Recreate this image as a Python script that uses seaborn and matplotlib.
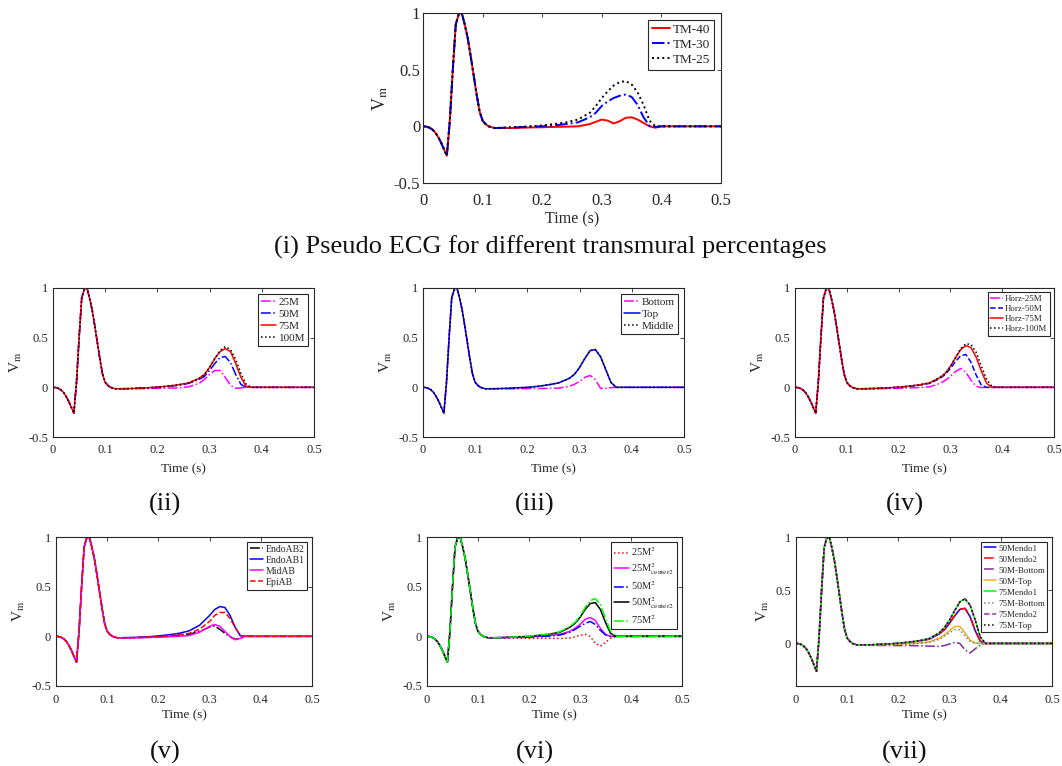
import numpy as np
import pandas as pd
import matplotlib
matplotlib.use("Agg")
import matplotlib.pyplot as plt
import seaborn as sns

# ---------------- data ----------------
# common depolarisation (QRS) part, identical for every curve
t_qrs = [0.0, 0.005, 0.01, 0.015, 0.02, 0.025, 0.03, 0.035, 0.04, 0.045, 0.05,
         0.055, 0.06, 0.065, 0.07, 0.075, 0.08, 0.085, 0.09, 0.095, 0.1, 0.105, 0.11]
v_qrs = [0.0, -0.002, -0.01, -0.025, -0.05, -0.09, -0.14, -0.2, -0.26, 0.05, 0.5,
         0.9, 0.99, 1.0, 0.9, 0.78, 0.62, 0.45, 0.28, 0.13, 0.05, 0.02, 0.0]
# repolarisation (T-wave) part
t_tail = [0.12, 0.15, 0.18, 0.2, 0.22, 0.24, 0.26, 0.28, 0.29, 0.30, 0.31, 0.32,
          0.33, 0.34, 0.35, 0.36, 0.37, 0.38, 0.39, 0.40, 0.45, 0.5]

# (i) transmural percentages
tm40 = [-0.015, -0.015, -0.01, -0.008, -0.005, -0.003, 0.0, 0.02, 0.04, 0.06, 0.05, 0.025,
        0.045, 0.075, 0.08, 0.06, 0.03, 0.0, -0.012, 0, 0, 0]
tm30 = [-0.015, -0.01, -0.003, 0.0, 0.008, 0.02, 0.035, 0.08, 0.12, 0.18, 0.22, 0.25,
        0.27, 0.28, 0.26, 0.19, 0.08, 0.005, -0.005, 0, 0, 0]
tm25 = [-0.015, -0.008, 0.0, 0.008, 0.02, 0.035, 0.06, 0.12, 0.18, 0.25, 0.31, 0.36,
        0.39, 0.40, 0.37, 0.30, 0.19, 0.05, 0.0, 0, 0, 0]
# (ii)
m25 = [-0.015, -0.015, -0.012, -0.01, -0.008, -0.005, 0.005, 0.04, 0.08, 0.13, 0.17, 0.17,
       0.10, 0.02, -0.01, -0.005, 0, 0, 0, 0, 0, 0]
m50 = [-0.015, -0.012, -0.005, 0.0, 0.01, 0.02, 0.04, 0.08, 0.11, 0.17, 0.24, 0.30,
       0.31, 0.25, 0.13, 0.03, 0.0, 0, 0, 0, 0, 0]
m75 = [-0.015, -0.012, -0.005, 0.002, 0.012, 0.025, 0.045, 0.09, 0.13, 0.20, 0.29, 0.36,
       0.39, 0.36, 0.24, 0.10, 0.01, 0, 0, 0, 0, 0]
m100 = [-0.015, -0.012, -0.005, 0.002, 0.012, 0.025, 0.045, 0.09, 0.13, 0.20, 0.29, 0.37,
        0.41, 0.38, 0.28, 0.14, 0.03, 0.0, 0, 0, 0, 0]
# (iii)
bottom = [-0.015, -0.015, -0.015, -0.013, -0.012, -0.01, -0.008, 0.01, 0.03, 0.06, 0.10, 0.12,
          0.08, -0.01, -0.01, -0.003, 0, 0, 0, 0, 0, 0]
top = [-0.015, -0.012, -0.005, 0.0, 0.01, 0.025, 0.045, 0.09, 0.13, 0.20, 0.29, 0.37,
       0.38, 0.31, 0.18, 0.05, 0.0, 0, 0, 0, 0, 0]
middle = [-0.015, -0.012, -0.005, 0.0, 0.01, 0.025, 0.045, 0.09, 0.13, 0.20, 0.29, 0.37,
          0.38, 0.31, 0.18, 0.05, 0.0, 0, 0, 0, 0, 0]
# (iv)
h25 = [-0.015, -0.015, -0.012, -0.01, -0.006, -0.002, 0.005, 0.04, 0.07, 0.11, 0.16, 0.19,
       0.15, 0.07, 0.01, -0.003, 0, 0, 0, 0, 0, 0]
h50 = [-0.015, -0.012, -0.005, 0.0, 0.01, 0.022, 0.04, 0.09, 0.13, 0.19, 0.26, 0.32,
       0.33, 0.25, 0.12, 0.02, 0.0, 0, 0, 0, 0, 0]
h75 = [-0.015, -0.012, -0.005, 0.002, 0.012, 0.025, 0.045, 0.10, 0.14, 0.21, 0.30, 0.38,
       0.42, 0.40, 0.30, 0.16, 0.04, 0.0, 0, 0, 0, 0]
h100 = [-0.015, -0.012, -0.005, 0.002, 0.012, 0.025, 0.045, 0.10, 0.14, 0.21, 0.30, 0.39,
        0.44, 0.43, 0.35, 0.21, 0.08, 0.01, 0, 0, 0, 0]
# (v)
endoab2 = [-0.015, -0.013, -0.01, -0.006, 0.0, 0.008, 0.02, 0.05, 0.07, 0.095, 0.105, 0.07,
           0.03, -0.005, -0.03, -0.02, 0.0, 0, 0, 0, 0, 0]
endoab1 = [-0.015, -0.012, -0.005, 0.005, 0.015, 0.03, 0.055, 0.11, 0.16, 0.21, 0.27, 0.30,
           0.29, 0.21, 0.09, 0.005, 0.0, 0, 0, 0, 0, 0]
midab = [-0.015, -0.015, -0.012, -0.008, -0.004, 0.0, 0.008, 0.04, 0.07, 0.10, 0.12, 0.10,
         0.05, 0.0, -0.035, -0.02, 0, 0, 0, 0, 0, 0]
epiab = [-0.015, -0.013, -0.008, -0.003, 0.005, 0.015, 0.03, 0.07, 0.11, 0.15, 0.21, 0.24,
         0.24, 0.18, 0.09, 0.01, 0.0, 0, 0, 0, 0, 0]
# (vi)
sq25 = [-0.015, -0.018, -0.02, -0.02, -0.02, -0.02, -0.022, -0.018, -0.005, 0.01, 0.02, 0.0,
        -0.07, -0.10, -0.06, -0.02, 0.0, 0, 0, 0, 0, 0]
sq25c = [-0.015, -0.012, -0.008, -0.005, 0.0, 0.008, 0.02, 0.05, 0.08, 0.12, 0.17, 0.19,
         0.16, 0.08, 0.02, 0.0, 0, 0, 0, 0, 0, 0]
sq50 = [-0.015, -0.013, -0.01, -0.008, -0.003, 0.003, 0.012, 0.04, 0.07, 0.10, 0.13, 0.15,
        0.12, 0.06, 0.015, 0.0, 0, 0, 0, 0, 0, 0]
sq50c = [-0.015, -0.012, -0.005, 0.0, 0.01, 0.022, 0.04, 0.09, 0.13, 0.19, 0.27, 0.33,
         0.34, 0.27, 0.14, 0.03, 0.0, 0, 0, 0, 0, 0]
sq75 = [-0.015, -0.012, -0.005, 0.002, 0.012, 0.025, 0.045, 0.10, 0.14, 0.20, 0.29, 0.36,
        0.38, 0.32, 0.18, 0.05, 0.0, 0, 0, 0, 0, 0]
# (vii)
mendo1_50 = [-0.015, -0.012, -0.005, 0.0, 0.01, 0.022, 0.04, 0.09, 0.13, 0.19, 0.26, 0.32,
             0.33, 0.25, 0.12, 0.02, 0.0, 0, 0, 0, 0, 0]
mendo2_50 = [-0.015, -0.012, -0.005, 0.0, 0.01, 0.022, 0.04, 0.09, 0.13, 0.19, 0.26, 0.32,
             0.33, 0.26, 0.12, 0.02, 0.0, 0, 0, 0, 0, 0]
bottom_50 = [-0.015, -0.018, -0.02, -0.02, -0.02, -0.022, -0.025, -0.028, -0.02, -0.005, 0.01, 0.0,
             -0.06, -0.09, -0.05, -0.015, 0, 0, 0, 0, 0, 0]
top_50 = [-0.015, -0.013, -0.01, -0.008, -0.003, 0.003, 0.015, 0.05, 0.08, 0.12, 0.16, 0.16,
          0.10, 0.03, 0.005, 0, 0, 0, 0, 0, 0, 0]
mendo1_75 = [-0.015, -0.012, -0.005, 0.002, 0.012, 0.025, 0.045, 0.10, 0.15, 0.22, 0.31, 0.39,
             0.42, 0.36, 0.22, 0.06, 0.0, 0, 0, 0, 0, 0]
bottom_75 = [-0.015, -0.013, -0.01, -0.008, -0.005, 0.0, 0.01, 0.04, 0.07, 0.10, 0.13, 0.13,
             0.07, 0.02, 0.0, 0, 0, 0, 0, 0, 0, 0]
mendo2_75 = [-0.015, -0.012, -0.005, 0.002, 0.012, 0.025, 0.045, 0.10, 0.15, 0.22, 0.31, 0.39,
             0.42, 0.36, 0.22, 0.06, 0.0, 0, 0, 0, 0, 0]
top_75 = [-0.015, -0.012, -0.005, 0.002, 0.012, 0.025, 0.045, 0.10, 0.15, 0.22, 0.31, 0.39,
          0.42, 0.36, 0.22, 0.06, 0.0, 0, 0, 0, 0, 0]

x_ticks = [0, 0.1, 0.2, 0.3, 0.4, 0.5]
x_ticklabels = ["0", "0.1", "0.2", "0.3", "0.4", "0.5"]
y_ticks = [-0.5, 0, 0.5, 1]
y_ticklabels = ["-0.5", "0", "0.5", "1"]
captions = ["(i) Pseudo ECG for different transmural percentages",
            "(ii)", "(iii)", "(iv)", "(v)", "(vi)", "(vii)"]

# ---------------- style ----------------
sns.set_style("white")
plt.rcParams["font.family"] = ["Liberation Serif", "DejaVu Serif"]
plt.rcParams["mathtext.fontset"] = "stix"
DARK = "#262626"

W, H = 1062, 766
fig = plt.figure(figsize=(W / 100, H / 100), dpi=100)


def px_axes(x0, y0, x1, y1):
    return fig.add_axes([x0 / W, 1 - y1 / H, (x1 - x0) / W, (y1 - y0) / H])


t_full = list(t_qrs) + list(t_tail)


def panel(ax, series, fs_tick, fs_lab, fs_leg, lw, ylim=(-0.5, 1), leg_kw=None,
          xpad=5, ypad=3.5, xlabpad=2):
    for label, tail, color, ls in series:
        df = pd.DataFrame({"Time": t_full, "V": list(v_qrs) + list(tail)})
        sns.lineplot(data=df, x="Time", y="V", ax=ax, color=color, linestyle=ls,
                     linewidth=lw, label=label, sort=False, estimator=None)
    ax.set_xlim(0, 0.5)
    ax.set_ylim(*ylim)
    ax.set_xticks(x_ticks)
    ax.set_xticklabels(x_ticklabels)
    yt = [v for v in y_ticks if ylim[0] - 1e-9 <= v <= ylim[1] + 1e-9]
    ax.set_yticks(yt)
    ax.set_yticklabels([y_ticklabels[y_ticks.index(v)] for v in yt])
    ax.tick_params(direction="in", top=True, right=True, labelsize=fs_tick,
                   colors=DARK, length=3, width=0.6)
    ax.tick_params(axis="x", pad=xpad)
    ax.tick_params(axis="y", pad=ypad)
    for s in ax.spines.values():
        s.set_color(DARK)
        s.set_linewidth(0.8)
    ax.set_xlabel("Time (s)", fontsize=fs_lab, color=DARK, labelpad=xlabpad)
    ax.set_ylabel(r"V$_\mathrm{m}$", fontsize=fs_lab + 1.5, color=DARK, labelpad=3)
    kw = dict(loc="upper right", fontsize=fs_leg, frameon=True, fancybox=False,
              edgecolor=DARK, framealpha=1, handlelength=1.4, handletextpad=0.2,
              borderpad=0.3, labelspacing=0.2, borderaxespad=0.5)
    if leg_kw:
        kw.update(leg_kw)
    leg = ax.legend(**kw)
    leg.get_frame().set_linewidth(0.8)


# (i)
ax1 = px_axes(423, 13, 721, 183)
panel(ax1, [("TM-40", tm40, "#FF0000", "-"),
            ("TM-30", tm30, "#0000FF", "-."),
            ("TM-25", tm25, "#000000", ":")], 12, 11.5, 9.5, 1.4,
      xpad=7, ypad=2, xlabpad=2)

# row 2
ax2 = px_axes(53, 288, 314, 437)
panel(ax2, [("25M", m25, "#FF00FF", "-."),
            ("50M", m50, "#0000FF", "-."),
            ("75M", m75, "#FF0000", "-"),
            ("100M", m100, "#000000", ":")], 9, 9.5, 8, 1.1, xpad=5, xlabpad=5)
ax3 = px_axes(423, 288, 684, 437)
panel(ax3, [("Bottom", bottom, "#FF00FF", "-."),
            ("Top", top, "#0000FF", "-"),
            ("Middle", middle, "#000000", ":")], 9, 9.5, 8, 1.1, xpad=5, xlabpad=5)
ax4 = px_axes(795, 288, 1054, 437)
panel(ax4, [("Horz-25M", h25, "#FF00FF", "-."),
            ("Horz-50M", h50, "#0000FF", "--"),
            ("Horz-75M", h75, "#FF0000", "-"),
            ("Horz-100M", h100, "#000000", ":")], 9, 9.5, 6.4, 1.1, xpad=5, xlabpad=5)

# row 3
ax5 = px_axes(56, 537, 312, 686)
panel(ax5, [("EndoAB2", endoab2, "#000000", "-."),
            ("EndoAB1", endoab1, "#0000FF", "-"),
            ("MidAB", midab, "#FF00FF", "-"),
            ("EpiAB", epiab, "#FF0000", "--")], 9, 9.5, 7, 1.1, xpad=6, xlabpad=2)
ax6 = px_axes(427, 537, 682, 686)
panel(ax6, [(r"25M$^2$", sq25, "#FF0000", ":"),
            (r"25M$^2_{\mathrm{center2}}$", sq25c, "#FF00FF", "-"),
            (r"50M$^2$", sq50, "#0000FF", "-."),
            (r"50M$^2_{\mathrm{center2}}$", sq50c, "#000000", "-"),
            (r"75M$^2$", sq75, "#00FF00", "-.")], 9, 9.5, 7.5, 1.1,
      leg_kw=dict(labelspacing=0.25), xpad=6, xlabpad=2)
ax7 = px_axes(796, 537, 1052, 686)
panel(ax7, [("50Mendo1", mendo1_50, "#0000FF", "-"),
            ("50Mendo2", mendo2_50, "#FF0000", "-."),
            ("50M-Bottom", bottom_50, "#7E2F8E", "-."),
            ("50M-Top", top_50, "#EDB120", "-"),
            ("75Mendo1", mendo1_75, "#00FF00", "-"),
            ("75M-Bottom", bottom_75, "#808080", ":"),
            ("75Mendo2", mendo2_75, "#A030B0", "--"),
            ("75M-Top", top_75, "#000000", ":")], 9, 9.5, 6.5, 1.1,
      ylim=(-0.4, 1), leg_kw=dict(labelspacing=0.3), xpad=6, xlabpad=2)

# captions
fig.text(550 / W, 1 - 247 / H, captions[0], ha="center", va="center", fontsize=19, color="#111111")
for (cx, cy), cap in zip([(165, 504), (535, 504), (905, 504),
                          (165, 752), (535, 752), (905, 752)], captions[1:]):
    fig.text(cx / W, 1 - cy / H, cap, ha="center", va="center", fontsize=19, color="#111111")

fig.savefig("out.png", dpi=100)
